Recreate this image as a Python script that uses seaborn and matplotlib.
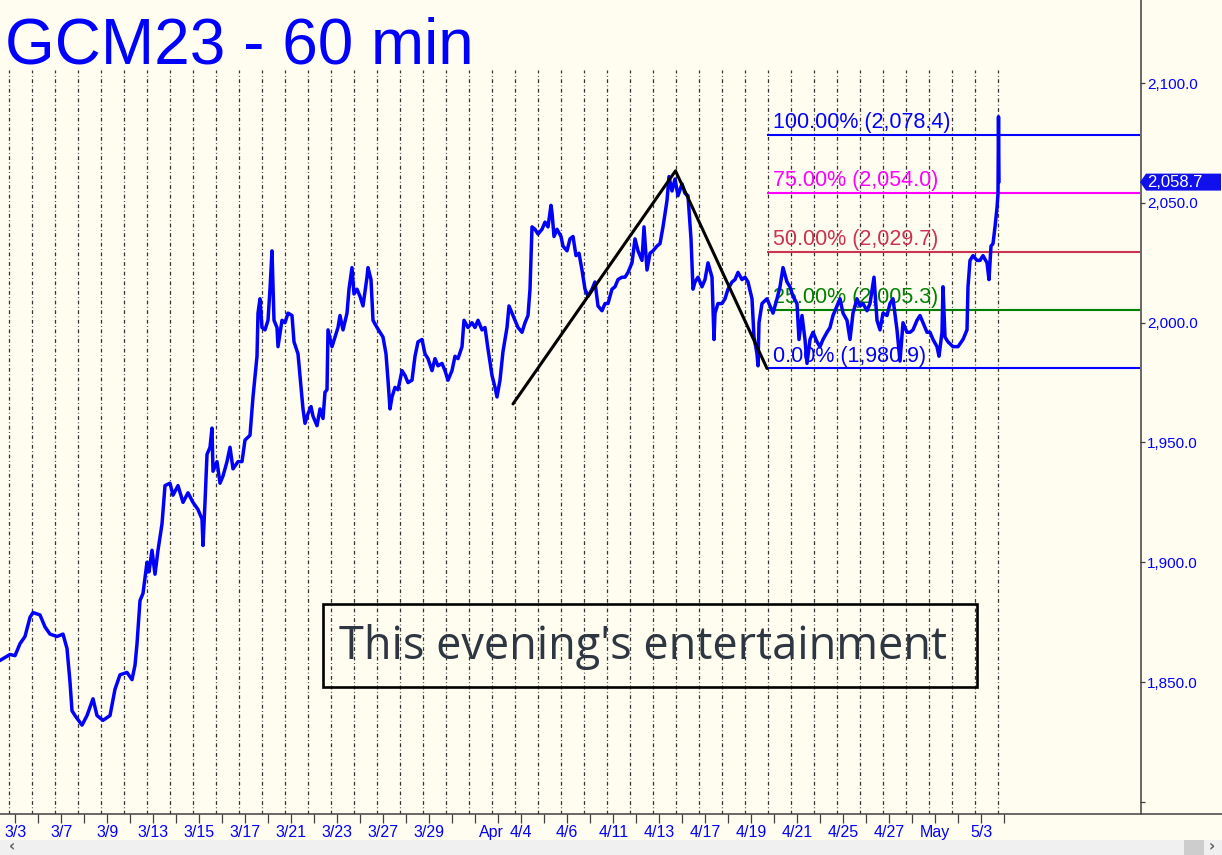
import matplotlib
matplotlib.use("Agg")
import matplotlib.pyplot as plt
import seaborn as sns
import pandas as pd
from matplotlib.patches import Rectangle, Polygon
from matplotlib.lines import Line2D
from matplotlib.transforms import IdentityTransform, ScaledTranslation

# ---------------- data (hourly bars, hour index from chart start) ----------------
hours = [0, 10, 15, 20, 25, 30, 33, 40, 45, 50, 57, 63, 67, 70, 72, 75, 82, 87, 93, 97,
         103, 110, 115, 120, 127, 132, 135, 137, 140, 143, 147, 149, 152, 155, 158, 162, 165, 170, 173, 178,
         183, 188, 193, 198, 202, 203, 205, 207, 210, 212, 213, 217, 220, 223, 227, 230, 233, 238, 242, 245,
         250, 253, 257, 258, 260, 262, 265, 268, 270, 272, 274, 277, 278, 282, 285, 288, 292, 294, 298, 301,
         303, 305, 308, 311, 313, 317, 320, 323, 325, 327, 328, 332, 335, 338, 340, 343, 347, 349, 352, 354,
         357, 360, 363, 367, 368, 371, 373, 377, 380, 383, 386, 388, 390, 392, 395, 398, 402, 405, 408, 412,
         415, 418, 422, 425, 428, 432, 435, 438, 442, 445, 448, 452, 455, 458, 462, 464, 468, 472, 475, 478,
         482, 485, 488, 492, 495, 497, 500, 503, 507, 509, 512, 515, 518, 522, 525, 528, 530, 532, 535, 538,
         542, 545, 548, 551, 552, 554, 557, 561, 563, 567, 570, 573, 576, 579, 582, 585, 588, 592, 595, 598,
         602, 605, 608, 612, 615, 618, 622, 625, 628, 632, 635, 638, 642, 644, 647, 650, 653, 657, 660, 663,
         667, 669, 672, 675, 678, 682, 685, 688, 691, 693, 695, 698, 702, 705, 708, 712, 714, 715, 718, 722,
         725, 728, 732, 735, 738, 742, 745, 748, 752, 754, 757, 758, 759, 762, 767, 770, 773, 777, 780, 783,
         787, 790, 793, 797, 799, 802, 805, 807, 810, 813, 817, 820, 823, 827, 830, 833, 837, 840, 843, 847,
         850, 853, 857, 860, 863, 867, 870, 874, 877, 880, 883, 887, 890, 893, 897, 900, 903, 907, 910, 913,
         917, 920, 923, 927, 930, 933, 937, 939, 942, 943, 945, 948, 953, 958, 963, 967, 968, 970, 973, 977,
         980, 983, 987, 989, 991, 993, 995, 997, 998, 998.5, 999]
prices = [1859, 1861.5, 1861, 1866, 1869, 1877, 1879, 1878, 1873, 1870, 1869, 1870, 1864, 1850, 1838, 1836, 1832, 1836, 1843, 1836,
          1834, 1836, 1847, 1853, 1854, 1851, 1857, 1866, 1884, 1887, 1900, 1896, 1905, 1895, 1905, 1916, 1932, 1933, 1928, 1932,
          1925, 1929, 1925, 1922, 1918, 1907, 1925, 1945, 1948, 1956, 1938, 1942, 1933, 1936, 1942, 1948, 1939, 1942, 1942, 1951,
          1953, 1969, 1986, 2004, 2010, 1998, 1997, 2001, 2014, 2030, 2001, 1998, 1990, 2001, 2000, 2004, 2003, 1992, 1987, 1973,
          1964, 1958, 1962, 1965, 1961, 1957, 1964, 1960, 1971, 1972, 1997, 1990, 1994, 1998, 2003, 1997, 2004, 2014, 2023, 2012,
          2014, 2011, 2007, 2019, 2023, 2018, 2001, 1998, 1996, 1994, 1987, 1976, 1964, 1969, 1973, 1972, 1980, 1978, 1975, 1976,
          1986, 1992, 1993, 1987, 1985, 1980, 1985, 1982, 1983, 1980, 1976, 1980, 1986, 1985, 1990, 2001, 1998, 2000, 1998, 2001,
          1997, 1998, 1989, 1978, 1973, 1969, 1976, 1988, 1998, 2007, 2004, 2001, 1998, 1996, 2000, 2003, 2014, 2040, 2039, 2037,
          2039, 2042, 2040, 2049, 2046, 2036, 2039, 2036, 2032, 2030, 2035, 2036, 2028, 2029, 2022, 2014, 2011, 2014, 2017, 2007,
          2005, 2008, 2008, 2014, 2015, 2018, 2019, 2019, 2021, 2025, 2035, 2030, 2026, 2040, 2022, 2029, 2030, 2032, 2033, 2040,
          2051, 2061, 2055, 2060, 2053, 2058, 2054, 2053, 2035, 2014, 2017, 2019, 2015, 2018, 2025, 2019, 1993, 2004, 2008, 2008,
          2010, 2014, 2017, 2018, 2021, 2018, 2019, 2017, 2010, 1994, 1987, 1982, 2000, 2008, 2010, 2007, 2004, 2010, 2015, 2023,
          2017, 2015, 2011, 2008, 1993, 2003, 1993, 1983, 1993, 1996, 1992, 1990, 1993, 1996, 1998, 2003, 2007, 2010, 2004, 2001,
          1993, 2004, 2010, 2007, 2008, 2005, 2008, 2019, 2001, 1997, 2004, 2003, 2008, 2010, 1997, 1984, 2000, 1996, 1996, 1997,
          2001, 2003, 2000, 1996, 1996, 1993, 1990, 1986, 1996, 2015, 1994, 1992, 1990, 1990, 1993, 1997, 2015, 2026, 2028, 2026,
          2026, 2028, 2025, 2018, 2032, 2033, 2040, 2048, 2054, 2086, 2058.7]
last_price = 2058.7

# sessions: 23 hourly bars each; first session begins 9.3 bars into the chart
bars_per_session = 23
first_session_start = 9.3
midnight_offset = 6
day_labels = ['3/3', '', '3/7', '', '3/9', '', '3/13', '', '3/15', '', '3/17', '', '3/21', '', '3/23', '',
              '3/27', '', '3/29', '', '', 'Apr', '4/4', '', '4/6', '', '4/11', '', '4/13', '', '4/17', '',
              '4/19', '', '4/21', '', '4/25', '', '4/27', '', 'May', '', '5/3', '']

y_ticks = [1800, 1850, 1900, 1950, 2000, 2050, 2100]

# Fibonacci-style levels
fib_start_hour = 767
fib_pcts = [100, 75, 50, 25, 0]
fib_levels = [2078.4, 2054.0, 2029.7, 2005.3, 1980.9]
fib_colors = ['#0000FF', '#FF00FF', '#CC3350', '#008000', '#0000FF']

# hand-drawn zigzag
zig_hours = [513, 675.5, 767]
zig_prices = [1966.1, 2063.4, 1980.9]

# annotation box
box_hours = [323, 977]
box_prices = [1847.9, 1882.6]
box_text = "This evening's entertainment"

title = "GCM23 - 60 min"

# ---------------- styling ----------------
sns.set_theme(style="white")
plt.rcParams['font.family'] = ['Liberation Sans', 'DejaVu Sans']
BG = '#FFFCF0'
BLUE = '#0000FF'
AXC = '#404040'

W, H = 1222, 855
fig = plt.figure(figsize=(W / 100, H / 100), dpi=100, facecolor=BG)
ax = fig.add_axes([0, 41 / H, 1140 / W, 744 / H])
ax.set_facecolor(BG)
ax.set_xlim(0, 1140)
ax.set_ylim(1794.9, 2105.5)
for s in ax.spines.values():
    s.set_visible(False)

# session separators
n_sessions = len(day_labels)
session_starts = [first_session_start + k * bars_per_session for k in range(n_sessions)]
for xs in session_starts:
    ax.axvline(xs, color='#333333', lw=0.9, linestyle=(0, (3, 2, 0.7, 2)), zorder=1)

# price
df = pd.DataFrame({'hour': hours, 'price': prices})
sns.lineplot(data=df, x='hour', y='price', ax=ax, color=BLUE, lw=2.5,
             estimator=None, sort=False, zorder=5)

# fib levels
for pct, lvl, col in zip(fib_pcts, fib_levels, fib_colors):
    ax.hlines(lvl, fib_start_hour, 1140, color=col, lw=1.5, zorder=3)
    ax.annotate(f"{pct:.2f}% ({lvl:,.1f})", xy=(fib_start_hour + 6, lvl), xytext=(0, 5),
                textcoords='offset points', color=col, fontsize=15.5, va='baseline', ha='left',
                zorder=4)

# zigzag
ax.plot(zig_hours, zig_prices, color='black', lw=2.2, zorder=6, solid_capstyle='round')

# text box
ax.add_patch(Rectangle((box_hours[0], box_prices[0]), box_hours[1] - box_hours[0],
                       box_prices[1] - box_prices[0], fill=False, ec='black', lw=1.9, zorder=6))
ax.text(643, sum(box_prices) / 2 - 0.8, box_text, ha='center', va='center', fontsize=32.5,
        family=['Open Sans', 'DejaVu Sans'], color='#2E3642', zorder=7)

# x ticks
tick_pos = [s + midnight_offset for s in session_starts]
ax.set_xticks(tick_pos)
ax.set_xticklabels(day_labels)
ax.tick_params(axis='x', direction='out', length=6.5, width=0.9, color=AXC, pad=1.5,
               labelcolor=BLUE, labelsize=11.5, bottom=True)
for lab in ax.get_xticklabels():
    if lab.get_text() == 'Apr':
        lab.set_transform(lab.get_transform() + ScaledTranslation(-7 / 100, 0, fig.dpi_scale_trans))

# y ticks on right
ax.yaxis.tick_right()
ax.set_yticks(y_ticks)
ax.set_yticklabels(['' if v == 1800 else f"{v:,.1f}" for v in y_ticks])
ax.tick_params(axis='y', direction='out', length=3.6, width=0.9, color=AXC, pad=1.5,
               labelcolor=BLUE, labelsize=11, right=True, left=False)
ax.set_xlabel('')
ax.set_ylabel('')

# axis lines (right one spans to top of figure, bottom spans full width)
fig.add_artist(Line2D([1140.5 / W, 1140.5 / W], [41 / H, 1], color=AXC, lw=1.1, transform=fig.transFigure))
fig.add_artist(Line2D([0, 1], [41 / H, 41 / H], color=AXC, lw=1.1, transform=fig.transFigure))

# last price tag
yd = ax.transData.transform((0, last_price))[1]
tag = Polygon([(1140, yd), (1146, yd + 8.5), (1221, yd + 8.5), (1221, yd - 8.5), (1146, yd - 8.5)],
              closed=True, transform=IdentityTransform(), fc='#1010EE', ec='none', zorder=10)
fig.add_artist(tag)
fig.text(1147 / W, yd / H, f"{last_price:,.1f}", color='white', fontsize=12, va='center',
         ha='left', zorder=11)

# title
fig.text(5 / W, 1 - 63 / H, title, color=BLUE, fontsize=46, va='baseline', ha='left')

# scroll bar strip
fig.add_artist(Rectangle((0, 0), 1, 15 / H, transform=fig.transFigure, fc='#F0F0F0', ec='none', zorder=0))
fig.add_artist(Rectangle((1184 / W, 0), 20 / W, 15 / H, transform=fig.transFigure, fc='#CDCDCD',
                         ec='none', zorder=0))
fig.text(12 / W, 8 / H, '‹', color='#606060', fontsize=11, va='center', ha='center',
         family='DejaVu Sans', weight='bold', zorder=2)
fig.text(1212 / W, 8 / H, '›', color='#606060', fontsize=11, va='center', ha='center',
         family='DejaVu Sans', weight='bold', zorder=2)

fig.savefig('out.png', dpi=100, facecolor=BG)
